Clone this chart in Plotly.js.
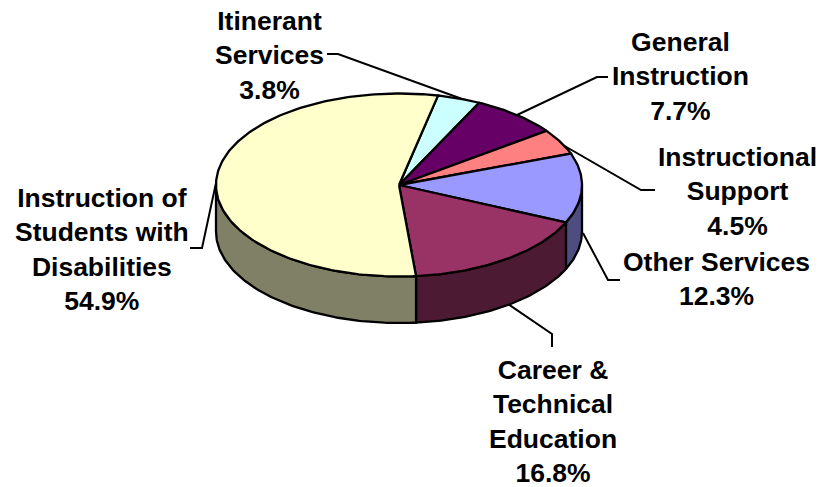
<!DOCTYPE html>
<html><head><meta charset="utf-8">
<script src="https://cdn.plot.ly/plotly-3.0.1.min.js"></script>
<style>html,body{margin:0;padding:0;background:#fff}</style></head>
<body><div id="chart" style="width:819px;height:487px"></div>
<script>
const categories = ["Itinerant Services","General Instruction","Instructional Support","Other Services","Career & Technical Education","Instruction of Students with Disabilities"];
const shares = [3.8,7.7,4.5,12.3,16.8,54.9];
const topColors = ["#ccffff","#660066","#ff8080","#9999ff","#993366","#ffffcc"];
const sideColors = ["#668080","#330033","#804040","#4d4d80","#4d1a33","#808066"];
const labelLines = [
  ["Itinerant","Services","3.8%"],
  ["General","Instruction","7.7%"],
  ["Instructional","Support","4.5%"],
  ["Other Services","12.3%"],
  ["Career &","Technical","Education","16.8%"],
  ["Instruction of","Students with","Disabilities","54.9%"]
];

const cx=399, cy=185, rx=183, ry=91.5, depth=46.5, startDeg=12.3;
const rad=d=>d*Math.PI/180;
const px=d=>cx+rx*Math.sin(rad(d));
const py=d=>cy-ry*Math.cos(rad(d));
const total=shares.reduce((a,b)=>a+b,0);
function arc(a,b){const n=Math.max(2,Math.ceil(Math.abs(b-a)));const o=[];for(let i=0;i<=n;i++)o.push(a+(b-a)*i/n);return o;}

const traces=[]; let a=startDeg; const spans=[];
shares.forEach(v=>{const b=a+v/total*360;spans.push([a,b]);a=b;});
function poly(xs,ys,fill){traces.push({type:"scatter",mode:"lines",x:xs,y:ys,fill:"toself",fillcolor:fill,line:{color:"#000",width:2.3},hoverinfo:"skip",showlegend:false});}
// leader lines sit behind the pie
const leaders=[
  [[327,54],[338,54],[476,104]],
  [[608,77],[597,77],[517,115]],
  [[655,190],[641,190],[556,141]],
  [[620,280],[608,280],[583,233]],
  [[552,347],[552,334],[505,302]],
  [[190,248],[202,248],[216,183]]
];
leaders.forEach(l=>traces.push({type:"scatter",mode:"lines",x:l.map(p=>p[0]),y:l.map(p=>p[1]),line:{color:"#000",width:2},hoverinfo:"skip",showlegend:false}));
// side walls: the visible front half only (90 to 270 degrees)
spans.forEach(([s,e],i)=>{
  const lo=Math.max(s,90), hi=Math.min(e,270);
  if(hi<=lo) return;
  const t=arc(lo,hi);
  poly(t.map(px).concat(t.slice().reverse().map(px),[px(lo)]),
       t.map(py).concat(t.slice().reverse().map(d=>py(d)+depth),[py(lo)]),
       sideColors[i]);
});
// top faces
spans.forEach(([s,e],i)=>{
  const t=arc(s,e);
  poly([cx].concat(t.map(px),[cx]),[cy].concat(t.map(py),[cy]),topColors[i]);
});

const labelPos=[[269,55],[680,76],[737,191],[716,279],[553,421],[102,249]];
const font={family:"Liberation Sans, Arial, sans-serif",size:26.5,color:"#000"};
const annotations=labelLines.map((lines,i)=>({
  x:labelPos[i][0],y:labelPos[i][1],xref:"x",yref:"y",showarrow:false,align:"center",
  text:"<b>"+lines.map(s=>s.replace("&","&amp;")).join("<br>")+"</b>",font:font
}));
Plotly.newPlot("chart",traces,{
  width:819,height:487,margin:{l:0,r:0,t:0,b:0},paper_bgcolor:"#fff",plot_bgcolor:"#fff",showlegend:false,
  xaxis:{range:[0,819],visible:false,fixedrange:true},
  yaxis:{range:[487,0],visible:false,fixedrange:true},
  annotations:annotations
},{displayModeBar:false,staticPlot:true});
</script></body></html>
